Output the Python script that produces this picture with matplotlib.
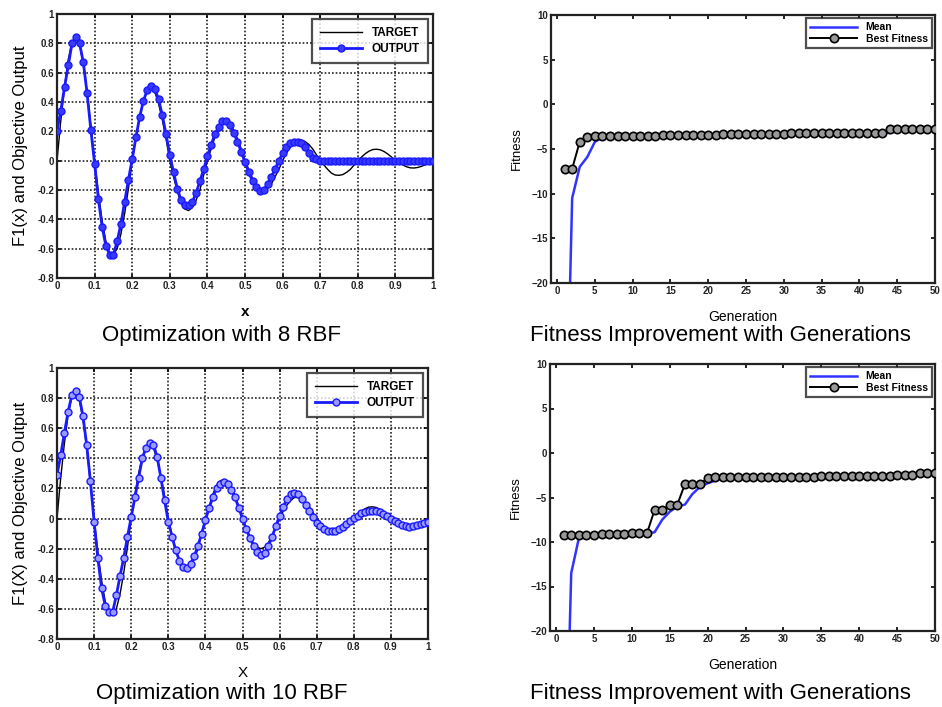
import numpy as np
import matplotlib
matplotlib.use("Agg")
import matplotlib.pyplot as plt

plt.rcParams['font.family'] = ['Liberation Sans', 'DejaVu Sans']

# ---------------- data ----------------
x_vals = [round(i * 0.01, 2) for i in range(101)]

target = [0.00, 0.27, 0.50, 0.69, 0.81, 0.84, 0.79, 0.66, 0.47, 0.24,
          0.00, -0.22, -0.41, -0.55, -0.63, -0.64, -0.60, -0.50, -0.36, -0.19,
          0.00, 0.16, 0.30, 0.41, 0.48, 0.50, 0.47, 0.39, 0.28, 0.15,
          0.00, -0.11, -0.21, -0.29, -0.33, -0.34, -0.32, -0.27, -0.20, -0.10,
          0.00, 0.08, 0.16, 0.22, 0.25, 0.26, 0.25, 0.21, 0.15, 0.08,
          0.00, -0.06, -0.12, -0.17, -0.19, -0.20, -0.19, -0.16, -0.11, -0.06,
          0.00, 0.05, 0.09, 0.12, 0.14, 0.14, 0.13, 0.11, 0.08, 0.04,
          0.00, -0.03, -0.06, -0.085, -0.098, -0.10, -0.095, -0.08, -0.06, -0.03,
          0.00, 0.025, 0.048, 0.065, 0.076, 0.078, 0.074, 0.062, 0.045, 0.024,
          0.00, -0.016, -0.03, -0.042, -0.049, -0.05, -0.046, -0.038, -0.027, -0.014,
          0.00]

output_8rbf = [0.20, 0.34, 0.50, 0.65, 0.80, 0.84, 0.80, 0.67, 0.46, 0.21,
               -0.02, -0.26, -0.45, -0.58, -0.64, -0.64, -0.55, -0.43, -0.28, -0.13,
               0.01, 0.16, 0.30, 0.41, 0.48, 0.51, 0.49, 0.42, 0.31, 0.18,
               0.04, -0.08, -0.19, -0.27, -0.30, -0.30, -0.28, -0.22, -0.14, -0.06,
               0.03, 0.11, 0.18, 0.23, 0.27, 0.27, 0.24, 0.19, 0.13, 0.06,
               -0.01, -0.08, -0.14, -0.18, -0.21, -0.20, -0.16, -0.11, -0.06, 0.00,
               0.05, 0.09, 0.12, 0.13, 0.13, 0.12, 0.09, 0.05, 0.02, 0.01,
               0.00, 0.00, -0.005, -0.005, 0.00, 0.00, 0.00, 0.00, 0.00, 0.00,
               0.00, 0.00, 0.00, 0.00, 0.00, 0.00, 0.00, 0.00, 0.00, 0.00,
               0.00, 0.00, 0.00, 0.00, 0.00, 0.00, 0.00, 0.00, 0.00, 0.00,
               0.00]

output_10rbf = [0.29, 0.42, 0.57, 0.71, 0.82, 0.85, 0.81, 0.68, 0.49, 0.25,
                -0.02, -0.26, -0.46, -0.58, -0.62, -0.62, -0.51, -0.38, -0.26, -0.12,
                0.01, 0.14, 0.27, 0.40, 0.47, 0.50, 0.49, 0.41, 0.27, 0.12,
                -0.02, -0.12, -0.21, -0.28, -0.32, -0.33, -0.30, -0.25, -0.18, -0.10,
                -0.01, 0.07, 0.14, 0.20, 0.23, 0.24, 0.23, 0.19, 0.14, 0.07,
                0.00, -0.07, -0.13, -0.18, -0.22, -0.24, -0.23, -0.18, -0.12, -0.05,
                0.02, 0.08, 0.13, 0.16, 0.17, 0.16, 0.13, 0.09, 0.05, 0.01,
                -0.03, -0.05, -0.07, -0.08, -0.085, -0.08, -0.07, -0.055, -0.035, -0.015,
                0.005, 0.02, 0.035, 0.045, 0.05, 0.052, 0.05, 0.042, 0.03, 0.015,
                0.00, -0.015, -0.03, -0.045, -0.052, -0.055, -0.052, -0.045, -0.036, -0.028,
                -0.02]

generations = list(range(1, 51))

best_8rbf = [-7.2, -7.2, -4.2, -3.7, -3.6, -3.6, -3.6, -3.6, -3.55, -3.55,
             -3.5, -3.5, -3.5, -3.45, -3.45, -3.45, -3.4, -3.4, -3.4, -3.4,
             -3.4, -3.35, -3.35, -3.35, -3.3, -3.3, -3.3, -3.3, -3.3, -3.3,
             -3.25, -3.25, -3.25, -3.2, -3.2, -3.2, -3.2, -3.2, -3.2, -3.2,
             -3.2, -3.2, -3.2, -2.8, -2.8, -2.8, -2.8, -2.8, -2.8, -2.8]
mean_8rbf = [-45.0, -10.5, -7.0, -5.9, -4.2, -3.7, -3.65, -3.6, -3.6, -3.55,
             -3.5, -3.5, -3.5, -3.45, -3.45, -3.45, -3.4, -3.4, -3.4, -3.4,
             -3.4, -3.35, -3.35, -3.35, -3.3, -3.3, -3.3, -3.3, -3.3, -3.3,
             -3.25, -3.25, -3.25, -3.2, -3.2, -3.2, -3.2, -3.2, -3.2, -3.2,
             -3.2, -3.2, -3.25, -3.2, -3.0, -2.9, -2.85, -2.85, -2.85, -2.85]

best_10rbf = [-9.2, -9.2, -9.25, -9.2, -9.2, -9.15, -9.1, -9.1, -9.05, -9.0,
              -9.0, -9.0, -6.4, -6.4, -5.8, -5.8, -3.5, -3.5, -3.5, -2.8,
              -2.7, -2.7, -2.7, -2.7, -2.7, -2.7, -2.7, -2.7, -2.7, -2.65,
              -2.65, -2.65, -2.65, -2.65, -2.6, -2.6, -2.6, -2.6, -2.6, -2.6,
              -2.55, -2.55, -2.55, -2.55, -2.5, -2.5, -2.5, -2.2, -2.2, -2.2]
mean_10rbf = [-45.0, -13.5, -9.6, -9.3, -9.3, -9.25, -9.2, -9.15, -9.1, -9.1,
              -9.05, -9.05, -8.9, -7.5, -6.6, -6.0, -5.8, -4.6, -3.8, -3.4,
              -3.1, -2.8, -2.75, -2.7, -2.7, -2.7, -2.7, -2.7, -2.7, -2.65,
              -2.65, -2.65, -2.65, -2.65, -2.6, -2.6, -2.6, -2.6, -2.6, -2.6,
              -2.55, -2.55, -2.55, -2.55, -2.5, -2.5, -2.5, -2.4, -2.3, -2.2]

x_ticks = [0, 0.1, 0.2, 0.3, 0.4, 0.5, 0.6, 0.7, 0.8, 0.9, 1]
x_ticklabels = ['0', '0.1', '0.2', '0.3', '0.4', '0.5', '0.6', '0.7', '0.8', '0.9', '1']
y_ticks = [-0.8, -0.6, -0.4, -0.2, 0, 0.2, 0.4, 0.6, 0.8, 1]
y_ticklabels = ['-0.8', '-0.6', '-0.4', '-0.2', '0', '0.2', '0.4', '0.6', '0.8', '1']
g_ticks = [0, 5, 10, 15, 20, 25, 30, 35, 40, 45, 50]
f_ticks = [-20, -15, -10, -5, 0, 5, 10]

titles = ['Optimization with 8 RBF', 'Fitness Improvement with Generations',
          'Optimization with 10 RBF', 'Fitness Improvement with Generations']

# ---------------- figure ----------------
W, H = 942, 707
fig = plt.figure(figsize=(W / 100, H / 100), dpi=100)


def ax_at(l, t, r, b):
    return fig.add_axes([l / W, 1 - b / H, (r - l) / W, (b - t) / H])


def style_common(ax):
    for s in ax.spines.values():
        s.set_linewidth(1.6)
        s.set_color('#222222')
    ax.tick_params(direction='in', top=True, right=True, length=3, width=1.2,
                   labelsize=7, pad=2)
    for lab in ax.get_xticklabels() + ax.get_yticklabels():
        lab.set_fontweight('bold')
        lab.set_color('#222222')


def rbf_panel(ax, out, mfc, ylabel, xlabel, xlabel_weight):
    ax.plot(x_vals, target, color='black', lw=1.0, label='TARGET', zorder=2)
    ax.plot(x_vals, out, color='#1a1aff', lw=2.0, marker='o', ms=5,
            mfc=mfc, mec='#1a1aff', mew=1.0, label='OUTPUT', zorder=3)
    ax.set_xlim(0, 1)
    ax.set_ylim(-0.8, 1)
    ax.set_xticks(x_ticks)
    ax.set_xticklabels(x_ticklabels)
    ax.set_yticks(y_ticks)
    ax.set_yticklabels(y_ticklabels)
    ax.grid(True, color='#222222', linestyle=(0, (1, 1.2)), linewidth=1.2)
    ax.set_ylabel(ylabel, fontsize=12, labelpad=7)
    ax.set_xlabel(xlabel, fontsize=11, fontweight=xlabel_weight, labelpad=10)
    style_common(ax)
    leg = ax.legend(loc='upper right', frameon=True, fancybox=False,
                    borderpad=0.7, handlelength=3.6, labelspacing=0.35,
                    borderaxespad=0.4,
                    prop={'weight': 'bold', 'size': 8.5})
    leg.get_frame().set_edgecolor('#222222')
    leg.get_frame().set_linewidth(1.6)


def fit_panel(ax, gen, mean, best):
    ax.plot(gen, mean, color='#3333ff', lw=1.8, label='Mean', zorder=2)
    ax.plot(gen, best, color='black', lw=1.4, marker='o', ms=6,
            mfc='#999999', mec='black', mew=1.2, label='Best Fitness', zorder=3)
    ax.set_xlim(-0.8, 50)
    ax.set_ylim(-20, 10)
    ax.set_xticks(g_ticks)
    ax.set_yticks(f_ticks)
    ax.set_ylabel('Fitness', fontsize=9.5, labelpad=6)
    ax.set_xlabel('Generation', fontsize=10, labelpad=10)
    style_common(ax)
    leg = ax.legend(loc='upper right', frameon=True, fancybox=False,
                    borderpad=0.4, handlelength=4.5, labelspacing=0.15,
                    borderaxespad=0.3,
                    prop={'weight': 'bold', 'size': 7.5})
    leg.get_frame().set_edgecolor('#222222')
    leg.get_frame().set_linewidth(1.6)


ax1 = ax_at(57, 14, 433, 278)
rbf_panel(ax1, output_8rbf, '#3a3aff', 'F1(x) and Objective Output', 'x', 'bold')

ax2 = ax_at(551, 15, 935, 283)
fit_panel(ax2, generations, mean_8rbf, best_8rbf)

ax3 = ax_at(57, 368, 428, 639)
rbf_panel(ax3, output_10rbf, '#9a9aff', 'F1(X) and Objective Output', 'X', 'normal')

ax4 = ax_at(550, 364, 935, 631)
fit_panel(ax4, generations, mean_10rbf, best_10rbf)

fig.text(222 / W, 1 - 336 / H, titles[0], ha='center', va='center', fontsize=16)
fig.text(720 / W, 1 - 336 / H, titles[1], ha='center', va='center', fontsize=16)
fig.text(222 / W, 1 - 693 / H, titles[2], ha='center', va='center', fontsize=16)
fig.text(720 / W, 1 - 693 / H, titles[3], ha='center', va='center', fontsize=16)

fig.savefig('out.png', dpi=100)
